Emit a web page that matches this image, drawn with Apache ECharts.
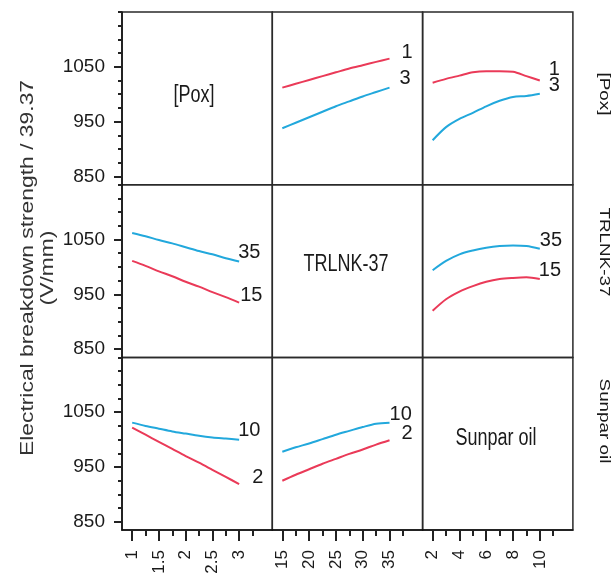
<!DOCTYPE html>
<html>
<head>
<meta charset="utf-8">
<script src="https://cdn.jsdelivr.net/npm/echarts@6/dist/echarts.min.js"></script>
<style>
  html, body { margin: 0; padding: 0; background: #fff; }
  #chart { width: 616px; height: 580px; }
</style>
</head>
<body>
<div id="chart"></div>
<script>
// ---- Factors on the diagonal ----
const factorNames = ['[Pox]', 'TRLNK-37', 'Sunpar oil'];

// Levels along each factor's x axis
const poxLevels = [1, 1.25, 1.5, 1.75, 2, 2.25, 2.5, 2.75, 3];
const trlnkLevels = [15, 17.5, 20, 22.5, 25, 27.5, 30, 32.5, 35];
const sunparLevels = [2, 3, 4, 5, 6, 7, 8, 9, 10];

// Row [Pox]: [Pox] held at 1 (red) and 3 (blue)
const pox1VsTrlnk = [1012, 1019, 1026, 1033, 1040, 1047, 1053, 1059, 1065];
const pox3VsTrlnk = [938, 948, 958, 968, 978, 987, 996, 1004, 1012];
const pox1VsSunpar = [1021, 1028, 1034, 1040, 1042, 1042, 1041, 1033, 1025];
const pox3VsSunpar = [916, 940, 955, 966, 978, 988, 995, 997, 1001];

// Row TRLNK-37: TRLNK-37 held at 35 (blue) and 15 (red)
const trlnk35VsPox = [1062, 1056, 1049, 1043, 1036, 1029, 1023, 1016, 1010];
const trlnk15VsPox = [1011, 1002, 992, 983, 973, 964, 954, 945, 935];
const trlnk35VsSunpar = [994, 1011, 1023, 1030, 1035, 1038, 1039, 1038, 1033];
const trlnk15VsSunpar = [920, 941, 955, 965, 973, 978, 980, 981, 978];

// Row Sunpar oil: Sunpar oil held at 10 (blue) and 2 (red)
const sun10VsPox = [1031, 1025, 1020, 1015, 1011, 1007, 1004, 1002, 1000];
const sun2VsPox = [1022, 1009, 996, 983, 970, 958, 945, 932, 919];
const sun10VsTrlnk = [978, 986, 993, 1001, 1009, 1016, 1023, 1029, 1031];
const sun2VsTrlnk = [925, 936, 946, 956, 965, 974, 982, 991, 999];

// ---- Tick values ----
const yRange = [835, 1150];
const yMinorTicks = [850, 875, 900, 925, 950, 975, 1000, 1025, 1050, 1075, 1100, 1125, 1150];
const yMajorTicks = [850, 950, 1050];

const xRanges = [[0.81, 3.62], [13.13, 41.17], [1.25, 12.47]];
const xMinorTicks = [
  [1, 1.25, 1.5, 1.75, 2, 2.25, 2.5, 2.75, 3, 3.25],
  [15, 17.5, 20, 22.5, 25, 27.5, 30, 32.5, 35, 37.5],
  [2, 3, 4, 5, 6, 7, 8, 9, 10, 11]
];
const xMajorTicks = [
  [1, 1.5, 2, 2.5, 3],
  [15, 20, 25, 30, 35],
  [2, 4, 6, 8, 10]
];
const levelsByColumn = [poxLevels, trlnkLevels, sunparLevels];

const RED = '#ea3a58';
const BLUE = '#22a8dc';
const SANS = '"Liberation Sans", Arial, sans-serif';
const plain = v => String(v);

// Panel layout
const L0 = 122, T0 = 12, CW = 150.3, RH = 172.7;

// Off-diagonal panels: [row, col, [name, values, color, labelOffset] x2]
const panels = [
  [0, 1, [['1', pox1VsTrlnk, RED, [12, -6]], ['3', pox3VsTrlnk, BLUE, [10, -9]]]],
  [0, 2, [['1', pox1VsSunpar, RED, [9, -11]], ['3', pox3VsSunpar, BLUE, [9, -8]]]],
  [1, 0, [['35', trlnk35VsPox, BLUE, [-1, -9]], ['15', trlnk15VsPox, RED, [1, -7]]]],
  [1, 2, [['35', trlnk35VsSunpar, BLUE, [0, -8]], ['15', trlnk15VsSunpar, RED, [-1, -9]]]],
  [2, 0, [['10', sun10VsPox, BLUE, [-1, -9]], ['2', sun2VsPox, RED, [13, -7]]]],
  [2, 1, [['10', sun10VsTrlnk, BLUE, [0, -8]], ['2', sun2VsTrlnk, RED, [12, -7]]]]
];

const grid = [], xAxis = [], yAxis = [], series = [];
const xMain = {}, yMain = {};

for (let r = 0; r < 3; r++) {
  for (let c = 0; c < 3; c++) {
    const g = r * 3 + c;
    grid.push({
      left: L0 + c * CW, top: T0 + r * RH, width: CW, height: RH,
      show: true, borderColor: '#2a2a2a', borderWidth: 1.5, backgroundColor: 'transparent'
    });
    const bottom = r === 2, left = c === 0;
    // main x axis (labels + long ticks)
    xMain[g] = xAxis.length;
    xAxis.push({
      type: 'value', gridIndex: g, min: xRanges[c][0], max: xRanges[c][1],
      position: 'bottom', splitLine: { show: false },
      axisLine: { show: bottom, onZero: false, lineStyle: { color: '#111', width: 1.5 } },
      axisTick: { show: bottom, customValues: xMajorTicks[c], length: 11, lineStyle: { color: '#222', width: 2 } },
      axisLabel: {
        show: bottom, customValues: xMajorTicks[c], rotate: 90, margin: 20,
        formatter: plain, fontFamily: SANS, fontSize: 17, color: '#1a1a1a'
      }
    });
    // secondary x axis carrying the short ticks
    xAxis.push({
      type: 'value', gridIndex: g, min: xRanges[c][0], max: xRanges[c][1],
      position: 'bottom', splitLine: { show: false },
      axisLine: { show: false, onZero: false },
      axisTick: { show: bottom, customValues: xMinorTicks[c], length: 6, lineStyle: { color: '#222', width: 2 } },
      axisLabel: { show: false }
    });
    // main y axis (labels + long ticks)
    yMain[g] = yAxis.length;
    yAxis.push({
      type: 'value', gridIndex: g, min: yRange[0], max: yRange[1],
      position: 'left', splitLine: { show: false },
      axisLine: { show: left, onZero: false, lineStyle: { color: '#111', width: 1.5 } },
      axisTick: { show: left, customValues: yMajorTicks, length: 8, lineStyle: { color: '#222', width: 2 } },
      axisLabel: {
        show: left, customValues: yMajorTicks, margin: 17,
        formatter: plain, fontFamily: SANS, fontSize: 19, color: '#1a1a1a'
      }
    });
    // secondary y axis carrying the short ticks
    yAxis.push({
      type: 'value', gridIndex: g, min: yRange[0], max: yRange[1],
      position: 'left', splitLine: { show: false },
      axisLine: { show: false, onZero: false },
      axisTick: { show: left, customValues: yMinorTicks, length: 4, lineStyle: { color: '#222', width: 2 } },
      axisLabel: { show: false }
    });
  }
}

panels.forEach(([r, c, lines]) => {
  const g = r * 3 + c;
  const xs = levelsByColumn[c];
  lines.forEach(([name, values, color, off]) => {
    series.push({
      type: 'line', name,
      xAxisIndex: xMain[g], yAxisIndex: yMain[g],
      data: xs.map((x, i) => [x, values[i]]),
      showSymbol: false, smooth: 0.3,
      lineStyle: { color, width: 2 },
      itemStyle: { color },
      emphasis: { disabled: true },
      endLabel: {
        show: true, formatter: name, distance: 0, offset: off,
        align: 'left', verticalAlign: 'middle',
        fontFamily: SANS, fontSize: 20, color: '#1a1a1a'
      },
      z: 3
    });
  });
});

// Diagonal factor names (tall, narrow lettering) and right-hand row titles
const graphic = [];
const diagCentres = [[194, 95], [346, 264], [496, 438]];
factorNames.forEach((t, i) => {
  graphic.push({
    type: 'text', x: diagCentres[i][0], y: diagCentres[i][1], scaleY: 1.35,
    style: { text: t, fontFamily: SANS, fontSize: 18, fill: '#1a1a1a', align: 'center', verticalAlign: 'middle' }
  });
});
const rightCentres = [94, 252, 421];
factorNames.forEach((t, i) => {
  graphic.push({
    type: 'text', x: 604, y: rightCentres[i], rotation: -Math.PI / 2, scaleX: 1.3,
    style: { text: t, fontFamily: SANS, fontSize: 14.5, fill: '#1a1a1a', align: 'center', verticalAlign: 'middle' }
  });
});
graphic.push({
  type: 'text', x: 38, y: 268, rotation: Math.PI / 2, scaleX: 1.27,
  style: {
    text: 'Electrical breakdown strength / 39.37\n(V/mm)',
    fontFamily: SANS, fontSize: 18, lineHeight: 20, fill: '#333',
    align: 'center', verticalAlign: 'middle'
  }
});

const chart = echarts.init(document.getElementById('chart'), null, { renderer: 'canvas' });
chart.setOption({
  animation: false,
  backgroundColor: '#fff',
  grid, xAxis, yAxis, series, graphic
});
</script>
</body>
</html>
